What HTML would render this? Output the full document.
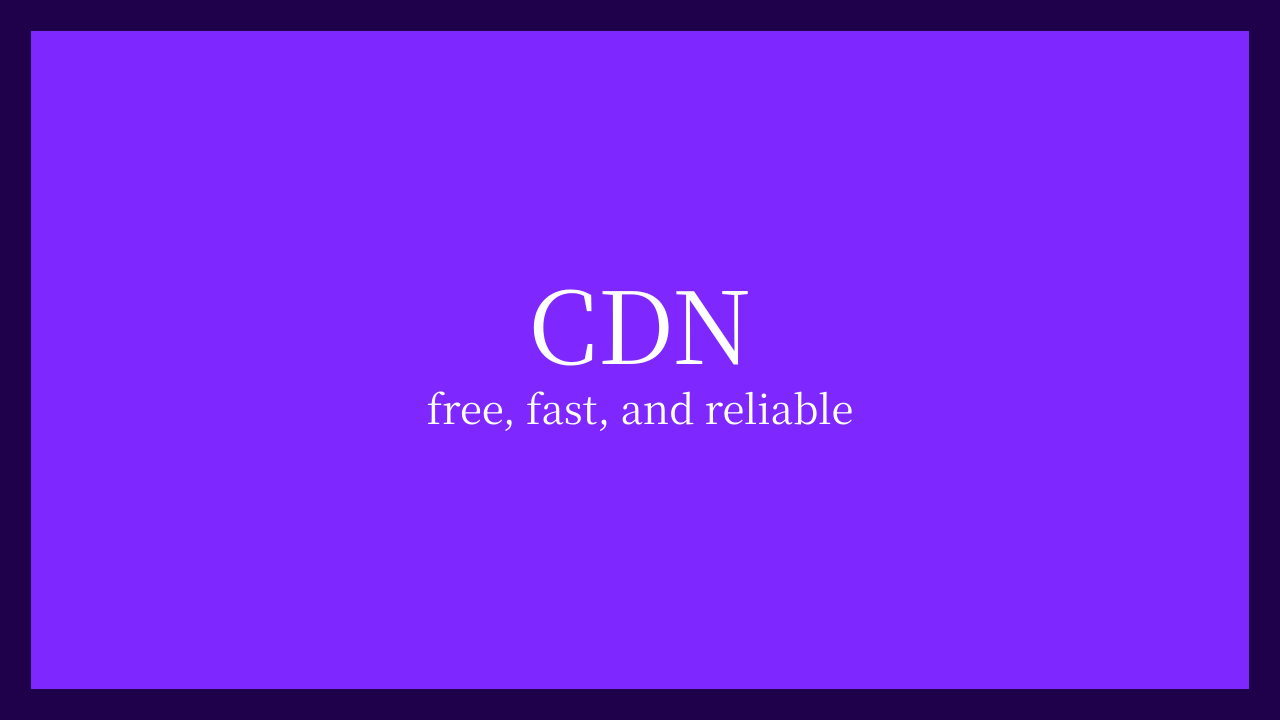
<!DOCTYPE html>
<html><head><meta charset="utf-8"><style>
html,body{margin:0;padding:0;width:1280px;height:720px;background:#1f004b;overflow:hidden}
.box{position:absolute;left:31px;top:31px;width:1218px;height:658px;background:#7f27ff}
.t{position:absolute;left:0;width:1280px;text-align:center;color:#fff;font-family:"Noto Serif CJK SC","Liberation Serif",serif;white-space:nowrap}
.a{top:256px;font-size:100px;line-height:130px}
.b{top:380px;font-size:40px;line-height:56px}
</style></head><body>
<div class="box"></div>
<div class="t a">CDN</div>
<div class="t b">free, fast, and reliable</div>
</body></html>
